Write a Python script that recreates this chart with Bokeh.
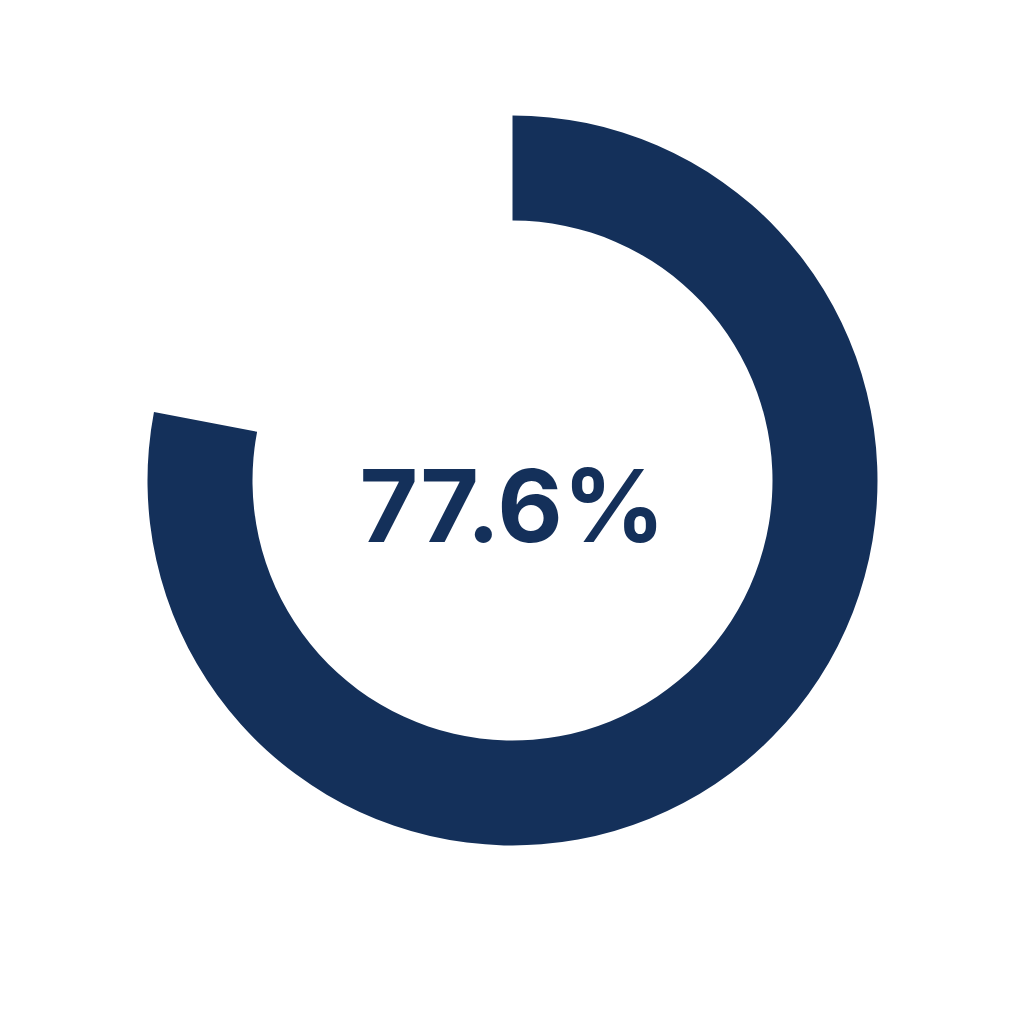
from math import pi

from bokeh.core.properties import value
from bokeh.embed import file_html
from bokeh.models import Range1d
from bokeh.plotting import figure
from bokeh.resources import INLINE

label = "77.6%"
ring_percent = 78.0
navy = "#14305a"

W, H = 1016, 1016
cx, cy = 512, H - 480
r_outer, r_inner = 365, 260

p = figure(width=W, height=H, output_backend="svg", toolbar_location=None,
           x_range=Range1d(0, W), y_range=Range1d(0, H), min_border=0)
p.axis.visible = False
p.grid.visible = False
p.outline_line_color = None

# arc starts at 12 o'clock and runs clockwise
start = pi / 2
end = start - 2 * pi * ring_percent / 100
p.annular_wedge(x=[cx], y=[cy], inner_radius=r_inner, outer_radius=r_outer,
                start_angle=[start], end_angle=[end], direction="clock",
                fill_color=navy, line_color=None)

p.text(x=[cx], y=[H - 504], text=[label], text_align="center",
       text_baseline="middle", text_color=navy,
       text_font=value("Inter"), text_font_style="bold", text_font_size="101px")

open("out.html", "w").write(file_html(p, INLINE))
